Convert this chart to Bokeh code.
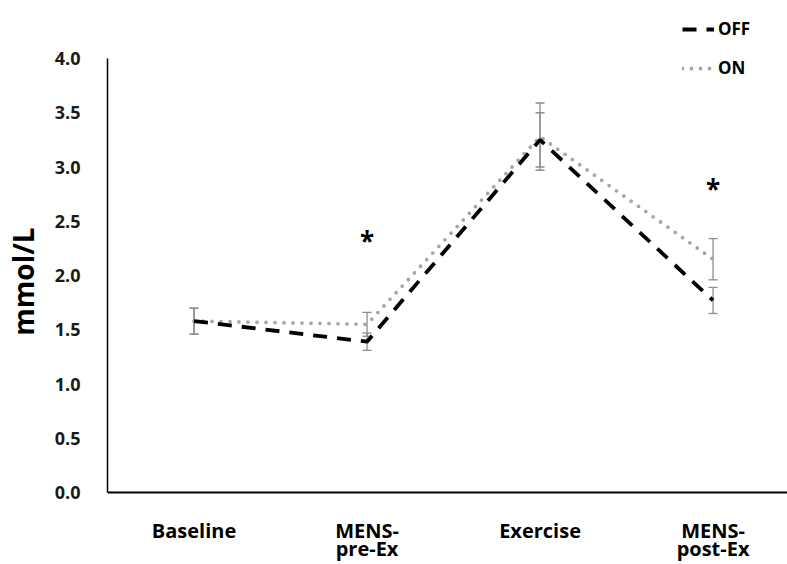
from bokeh.plotting import figure
from bokeh.models import (Range1d, FixedTicker, Whisker, ColumnDataSource, Legend,
                          LegendItem, TeeHead, Label, LinearAxis)
from bokeh.embed import file_html
from bokeh.resources import INLINE
from bokeh.core.properties import value

categories = ["Baseline", "MENS-\npre-Ex", "Exercise", "MENS-\npost-Ex"]
off_vals = [1.58, 1.39, 3.25, 1.77]
off_err = [0.12, 0.08, 0.25, 0.12]
on_vals = [1.58, 1.55, 3.28, 2.15]
on_err = [0.12, 0.11, 0.31, 0.19]
star_idx = [1, 3]
star_y = [2.32, 2.80]
y_ticks = [0.0, 0.5, 1.0, 1.5, 2.0, 2.5, 3.0, 3.5, 4.0]

xs = [i + 0.5 for i in range(len(categories))]

FONT = "Open Sans"

# layout constants (pixels)
FRAME_H = 562
FRAME_TOP = 0          # page y of the frame top
Y4_PAGE = 58           # page y of value 4.0
PX_PER_UNIT = 108.5
y_end = 4.0 + (Y4_PAGE - FRAME_TOP) / PX_PER_UNIT
y_start = y_end - FRAME_H / PX_PER_UNIT


def page_y(py):
    return y_end - (py - FRAME_TOP) / PX_PER_UNIT


p = figure(frame_width=681, frame_height=FRAME_H, output_backend="svg",
           toolbar_location=None, x_axis_location=None,
           x_range=Range1d(0, 3.936), y_range=Range1d(y_start, y_end),
           min_border_left=98, min_border_right=0, min_border_top=0, min_border_bottom=0)
p.outline_line_color = None
p.xgrid.grid_line_color = None
p.ygrid.grid_line_color = None
p.background_fill_color = "white"
p.border_fill_color = "white"

# x axis: line at value 0, category texts drawn as labels below it
xaxis = LinearAxis(fixed_location=0, ticker=FixedTicker(ticks=xs),
                   major_label_overrides={x: "" for x in xs},
                   major_label_text_font_size="1px", major_label_standoff=0,
                   major_tick_line_color=None, minor_tick_line_color=None,
                   axis_line_color="black", axis_line_width=2)
p.add_layout(xaxis, "above")

p.yaxis.bounds = (0, 4)
p.yaxis.ticker = FixedTicker(ticks=y_ticks)
p.yaxis.major_label_overrides = {t: f"{t:.1f}" for t in y_ticks}
p.yaxis.major_tick_line_color = None
p.yaxis.minor_tick_line_color = None
p.yaxis.axis_line_color = "black"
p.yaxis.axis_line_width = 1.5
p.yaxis.major_label_text_font = FONT
p.yaxis.major_label_text_font_style = "bold"
p.yaxis.major_label_text_font_size = "18px"
p.yaxis.major_label_text_color = "#1a1a1a"
p.yaxis.major_label_standoff = 21
p.yaxis.axis_label = "mmol/L"
p.yaxis.axis_label_text_font = FONT
p.yaxis.axis_label_text_font_style = "bold"
p.yaxis.axis_label_text_font_size = "28px"
p.yaxis.axis_label_text_color = "black"
p.yaxis.axis_label_standoff = 10

# category labels
for x, c in zip(xs, categories):
    for k, line in enumerate(c.split("\n")):
        p.add_layout(Label(x=x, y=page_y(530 + 18 * k), text=line, text_align="center",
                           text_baseline="alphabetic", text_font=FONT,
                           text_font_style="bold", text_font_size="20px",
                           text_color="black"))

# error bars
src_off = ColumnDataSource(dict(x=xs, y=off_vals,
                                lo=[v - e for v, e in zip(off_vals, off_err)],
                                hi=[v + e for v, e in zip(off_vals, off_err)]))
src_on = ColumnDataSource(dict(x=xs, y=on_vals,
                               lo=[v - e for v, e in zip(on_vals, on_err)],
                               hi=[v + e for v, e in zip(on_vals, on_err)]))
for src in (src_off, src_on):
    w = Whisker(source=src, base="x", lower="lo", upper="hi", dimension="height",
                line_color="#8c8c8c", line_width=1.3,
                upper_head=TeeHead(size=9, line_color="#8c8c8c", line_width=1.3),
                lower_head=TeeHead(size=9, line_color="#8c8c8c", line_width=1.3))
    p.add_layout(w)

# lines
r_on = p.line("x", "y", source=src_on, line_color="#a6a6a6", line_width=3.8,
              line_dash="0 9", line_cap="round")
r_off = p.line("x", "y", source=src_off, line_color="black", line_width=3.8,
               line_dash="14 10")

# asterisks
p.text(x=[xs[i] for i in star_idx], y=star_y, text=["*", "*"],
       text_font=value(FONT), text_font_style="bold", text_font_size="26px",
       text_align="center", text_baseline="middle", text_color="black")

legend = Legend(items=[LegendItem(label="OFF", renderers=[r_off]),
                       LegendItem(label="ON", renderers=[r_on])],
                location=(575, FRAME_TOP + FRAME_H - 79), orientation="vertical",
                padding=0, margin=0, spacing=16,
                glyph_width=32, glyph_height=20, label_height=20,
                label_standoff=4,
                label_text_font=FONT, label_text_font_style="bold",
                label_text_font_size="17px", label_text_color="black",
                background_fill_alpha=0, border_line_color=None)
p.add_layout(legend, "center")

open("out.html", "w").write(file_html(p, INLINE))
